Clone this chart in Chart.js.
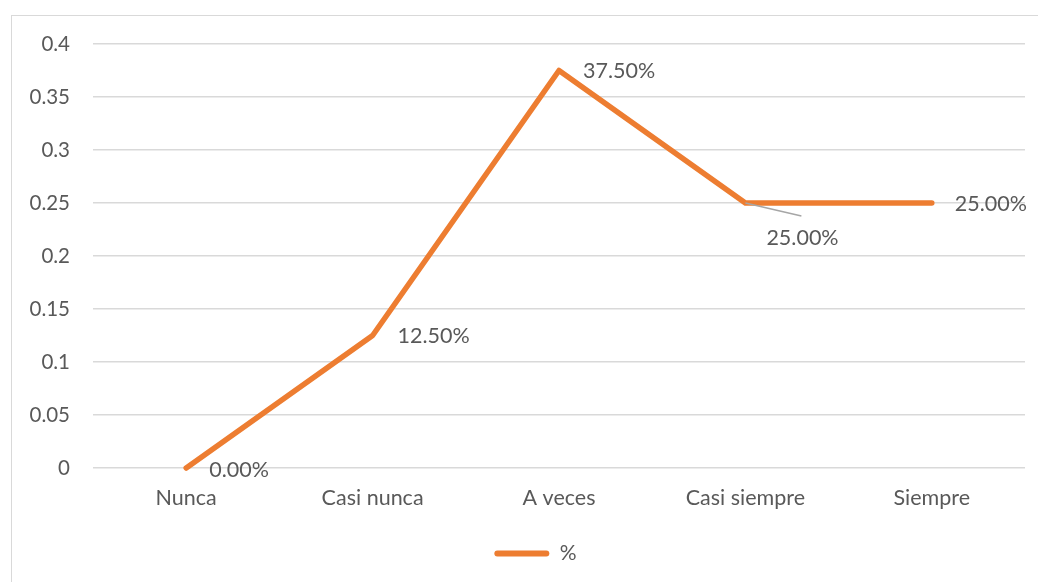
<!DOCTYPE html>
<html>
<head>
<meta charset="utf-8">
<script src="https://cdn.jsdelivr.net/npm/chart.js@4.4.1/dist/chart.umd.min.js"></script>
<style>
html,body{margin:0;padding:0;background:#fff;}
#wrap{position:relative;width:1038px;height:582px;}
#frame{position:absolute;left:11px;top:15px;width:1040px;height:600px;border:1px solid #d9d9d9;box-sizing:border-box;}
canvas{position:absolute;left:0;top:0;}
</style>
</head>
<body>
<div id="wrap"><div id="frame"></div><canvas id="c" width="1038" height="582"></canvas></div>
<script>
const categories = ['Nunca', 'Casi nunca', 'A veces', 'Casi siempre', 'Siempre'];
const seriesName = '%';
const values = [0, 0.125, 0.375, 0.25, 0.25];
const yTicks = [0, 0.05, 0.1, 0.15, 0.2, 0.25, 0.3, 0.35, 0.4];

// label placement offsets (style, not data)
const labelOffsets = [[23, 2], [25, 1], [24, 1], [21, 35], [23, 1]];
const leaderLines = [null, null, null, [56, 13], null];

const TEXT = '#595959';
const FONT = 'Lato, "Open Sans", sans-serif';

const dataLabels = {
  id: 'dataLabels',
  afterDatasetsDraw(chart) {
    const ctx = chart.ctx;
    const meta = chart.getDatasetMeta(0);
    ctx.save();
    ctx.font = '21.5px ' + FONT;
    ctx.fillStyle = TEXT;
    ctx.textBaseline = 'middle';
    ctx.textAlign = 'left';
    meta.data.forEach((pt, i) => {
      const v = chart.data.datasets[0].data[i];
      const txt = (v * 100).toFixed(2) + '%';
      const o = labelOffsets[i];
      if (leaderLines[i]) {
        ctx.strokeStyle = '#a6a6a6';
        ctx.lineWidth = 1.5;
        ctx.beginPath();
        ctx.moveTo(pt.x, pt.y);
        ctx.lineTo(pt.x + leaderLines[i][0], pt.y + leaderLines[i][1]);
        ctx.stroke();
      }
      ctx.fillText(txt, pt.x + o[0], pt.y + o[1]);
    });
    ctx.restore();
  }
};

const legendShift = {
  id: 'legendShift',
  afterLayout(chart) {
    if (chart.legend) { chart.legend.left += 23; chart.legend.right += 23; }
  }
};

new Chart(document.getElementById('c'), {
  type: 'line',
  data: {
    labels: categories,
    datasets: [{
      label: seriesName,
      data: values,
      borderColor: '#ED7D31',
      backgroundColor: '#ED7D31',
      borderWidth: 5.5,
      borderCapStyle: 'round',
      borderJoinStyle: 'round',
      pointRadius: 0,
      tension: 0,
      fill: false,
      clip: false
    }]
  },
  options: {
    responsive: false,
    animation: false,
    devicePixelRatio: 1,
    layout: { padding: { left: 0, right: 13, top: 44, bottom: 8 } },
    plugins: {
      tooltip: { enabled: false },
      legend: {
        position: 'bottom',
        labels: {
          color: TEXT,
          font: { family: FONT, size: 21 },
          boxWidth: 55,
          boxHeight: 6,
          useBorderRadius: true,
          borderRadius: 3,
          padding: 10,
          generateLabels(chart) {
            const ds = chart.data.datasets[0];
            return [{
              text: ds.label,
              fillStyle: ds.borderColor,
              strokeStyle: ds.borderColor,
              lineWidth: 0,
              borderRadius: 3,
              datasetIndex: 0,
              fontColor: TEXT
            }];
          }
        }
      }
    },
    scales: {
      x: {
        offset: true,
        grid: { display: false, drawTicks: false },
        border: { display: false },
        ticks: { color: TEXT, font: { family: FONT, size: 21.5 }, padding: 17, maxRotation: 0 },
        afterFit(s) { s.height = 65; }
      },
      y: {
        min: 0,
        max: 0.4,
        afterBuildTicks(s) { s.ticks = yTicks.map(v => ({ value: v })); },
        grid: { color: '#d9d9d9', lineWidth: 1.5, drawTicks: false },
        border: { display: false },
        ticks: {
          color: TEXT,
          font: { family: FONT, size: 20.5 },
          padding: 23,
          callback: v => String(Math.round(v * 100) / 100)
        },
        afterFit(s) { s.width = 93; }
      }
    }
  },
  plugins: [dataLabels, legendShift]
});
</script>
</body>
</html>
